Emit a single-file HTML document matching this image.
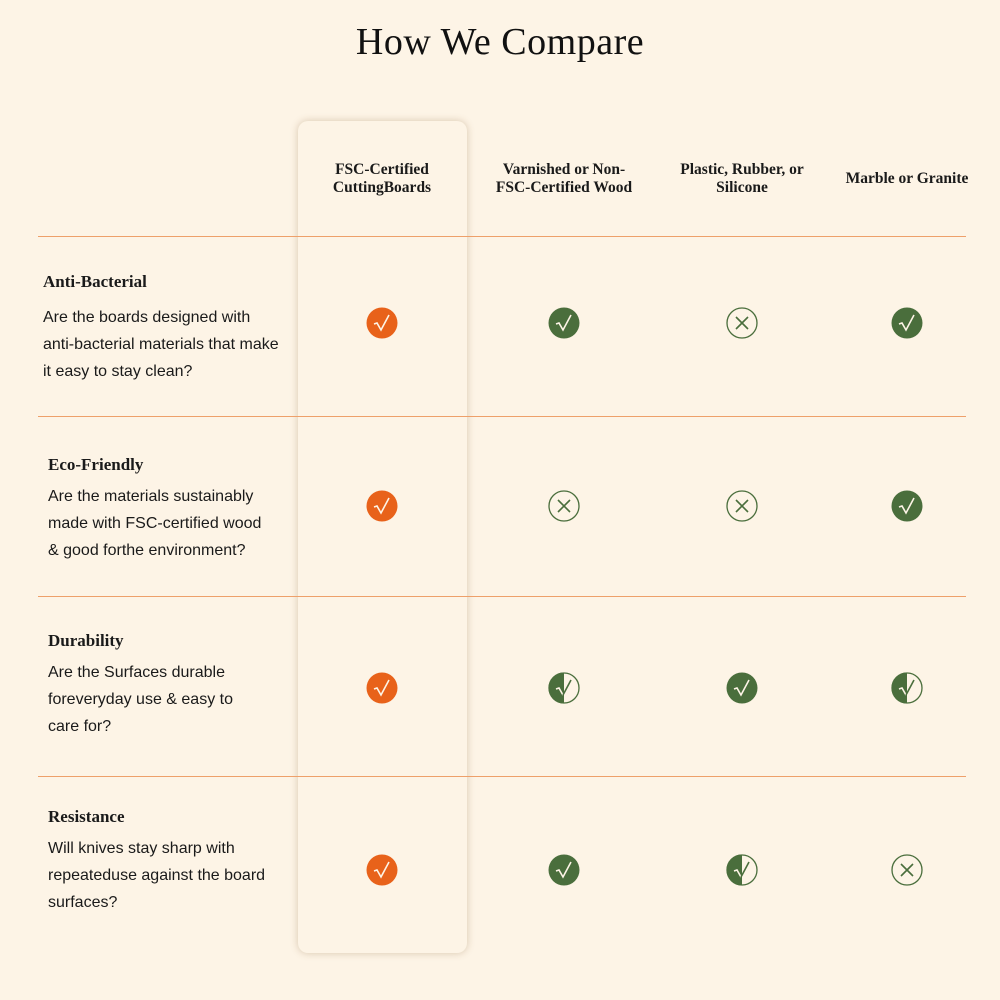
<!DOCTYPE html>
<html><head><style>
body{margin:0;background:#fdf4e6;}
#c{position:relative;width:1000px;height:1000px;background:#fdf4e6;overflow:hidden;font-family:"Liberation Sans",sans-serif;color:#1a1a1a}
.a{position:absolute}
h1{position:absolute;top:20px;left:0;width:1000px;text-align:center;margin:0;font:500 38px "Liberation Serif",serif;color:#111;letter-spacing:0.5px}
.card{left:298px;top:121px;width:169px;height:832px;border-radius:10px;background:#fdf4e6;box-shadow:0 0 8px rgba(120,80,30,.28)}
.hl{height:1px;left:38px;width:928px;background:#eea06a}
.ch{font:bold 15.5px "Liberation Serif",serif;text-align:center;line-height:18px;width:190px}
.t{font:bold 17px "Liberation Serif",serif}
.b{font-size:16px;line-height:27px}
svg{position:absolute}
</style></head><body><div id="c">
<h1>How We Compare</h1>
<div class="a card"></div>
<div class="a hl" style="top:236px"></div>
<div class="a hl" style="top:416px"></div>
<div class="a hl" style="top:596px"></div>
<div class="a hl" style="top:776px"></div>
<div class="a ch" style="left:287px;top:161px">FSC-Certified<br>CuttingBoards</div>
<div class="a ch" style="left:469px;top:161px">Varnished or Non-<br>FSC-Certified Wood</div>
<div class="a ch" style="left:647px;top:161px">Plastic, Rubber, or<br>Silicone</div>
<div class="a ch" style="left:812px;top:170px">Marble or Granite</div>

<div class="a t" style="left:43px;top:272px">Anti-Bacterial</div>
<div class="a b" style="left:43px;top:304px">Are the boards designed with<br>anti-bacterial materials that make<br>it easy to stay clean?</div>
<div class="a t" style="left:48px;top:455px">Eco-Friendly</div>
<div class="a b" style="left:48px;top:483px">Are the materials sustainably<br>made with FSC-certified wood<br>&amp; good forthe environment?</div>
<div class="a t" style="left:48px;top:631px">Durability</div>
<div class="a b" style="left:48px;top:659px">Are the Surfaces durable<br>foreveryday use &amp; easy to<br>care for?</div>
<div class="a t" style="left:48px;top:807px">Resistance</div>
<div class="a b" style="left:48px;top:835px">Will knives stay sharp with<br>repeateduse against the board<br>surfaces?</div>

<svg width="1000" height="1000" style="left:0;top:0">
<defs>
<g id="o"><circle r="15.5" fill="#e8621a"/><path d="M-8,1 l3,-1 l4,7 l8,-15" stroke="#fdf4e6" stroke-width="1.6" fill="none"/></g>
<g id="g"><circle r="15.5" fill="#4a6e3c"/><path d="M-8,1 l3,-1 l4,7 l8,-15" stroke="#fdf4e6" stroke-width="1.6" fill="none"/></g>
<g id="x"><circle r="15" fill="none" stroke="#4a6e3c" stroke-width="1.3"/><path d="M-6,-6 L6,6 M6,-6 L-6,6" stroke="#4a6e3c" stroke-width="1.6"/></g>
<g id="h"><circle r="15" fill="none" stroke="#4a6e3c" stroke-width="1.3"/><path d="M0,-15.5 A15.5,15.5 0 0 0 0,15.5Z" fill="#4a6e3c"/><path d="M-8,1 l3,-1 l4,7" stroke="#fdf4e6" stroke-width="1.6" fill="none"/><path d="M-1,7 l8,-15" stroke="#4a6e3c" stroke-width="1.6" fill="none"/></g>
</defs>
<use href="#o" x="382" y="323"/><use href="#g" x="564" y="323"/><use href="#x" x="742" y="323"/><use href="#g" x="907" y="323"/>
<use href="#o" x="382" y="506"/><use href="#x" x="564" y="506"/><use href="#x" x="742" y="506"/><use href="#g" x="907" y="506"/>
<use href="#o" x="382" y="688"/><use href="#h" x="564" y="688"/><use href="#g" x="742" y="688"/><use href="#h" x="907" y="688"/>
<use href="#o" x="382" y="870"/><use href="#g" x="564" y="870"/><use href="#h" x="742" y="870"/><use href="#x" x="907" y="870"/>
</svg>
</div></body></html>
